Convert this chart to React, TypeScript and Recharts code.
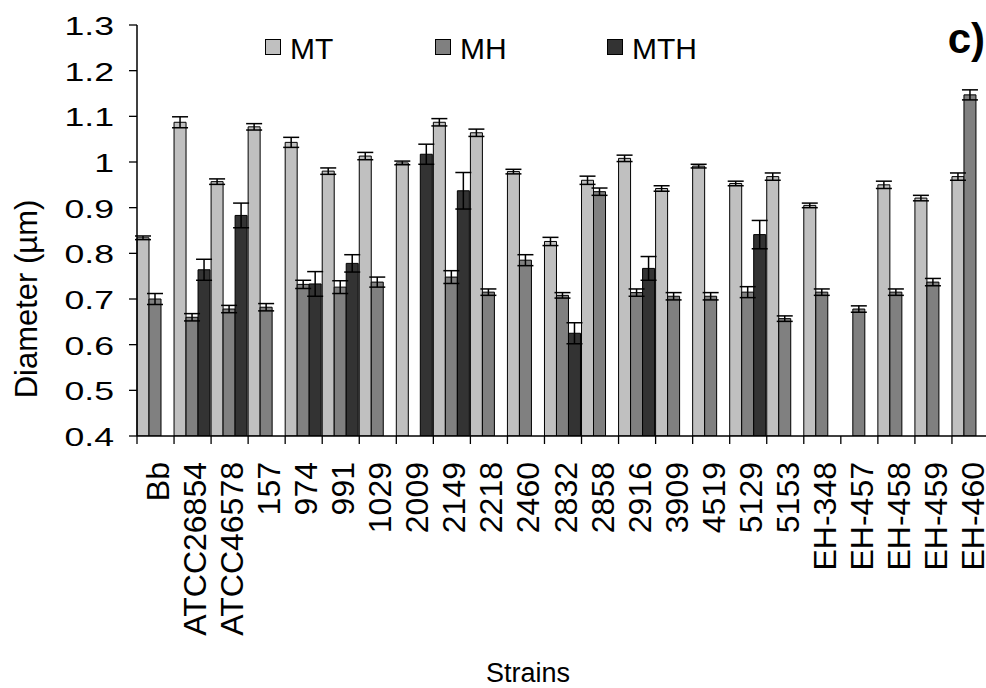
import React from "react";
import { BarChart, Bar, XAxis, YAxis, ErrorBar } from "recharts";

const FONT = '"Liberation Sans", Arial, Helvetica, sans-serif';

const strains = [
  "Bb", "ATCC26854", "ATCC46578", "157", "974", "991", "1029", "2009", "2149", "2218",
  "2460", "2832", "2858", "2916", "3909", "4519", "5129", "5153", "EH-348", "EH-457",
  "EH-458", "EH-459", "EH-460",
];

const mtValues = [
  0.834, 1.087, 0.957, 1.077, 1.043, 0.98, 1.013, 0.998, 1.087, 1.064,
  0.979, 0.826, 0.96, 1.008, 0.942, 0.991, 0.953, 0.968, 0.905, null,
  0.95, 0.921, 0.968,
];
const mtErrors = [
  0.004, 0.012, 0.006, 0.007, 0.011, 0.007, 0.008, 0.004, 0.008, 0.008,
  0.005, 0.009, 0.009, 0.007, 0.006, 0.004, 0.005, 0.008, 0.005, null,
  0.008, 0.006, 0.008,
];

const mhValues = [
  0.7, 0.66, 0.678, 0.682, 0.732, 0.726, 0.737, null, 0.748, 0.715,
  0.785, 0.708, 0.935, 0.714, 0.706, 0.706, 0.715, 0.657, 0.715, 0.678,
  0.715, 0.737, 1.147,
];
const mhErrors = [
  0.012, 0.008, 0.008, 0.008, 0.009, 0.014, 0.011, null, 0.014, 0.007,
  0.012, 0.006, 0.008, 0.008, 0.008, 0.008, 0.012, 0.006, 0.007, 0.007,
  0.007, 0.008, 0.011,
];

const mthValues = [
  null, 0.764, 0.883, null, 0.733, 0.778, null, 1.017, 0.937, null,
  null, 0.625, null, 0.767, null, null, 0.841, null, null, null,
  null, null, null,
];
const mthErrors = [
  null, 0.023, 0.027, null, 0.027, 0.019, null, 0.022, 0.04, null,
  null, 0.023, null, 0.026, null, null, 0.031, null, null, null,
  null, null, null,
];

const yTicks = [0.4, 0.5, 0.6, 0.7, 0.8, 0.9, 1.0, 1.1, 1.2, 1.3];

const seriesNames = ["MT", "MH", "MTH"];
const seriesColors = ["#c0c0c0", "#808080", "#333333"];

const data = strains.map((s, i) => ({
  strain: s,
  MT: mtValues[i],
  MTe: mtErrors[i],
  MH: mhValues[i],
  MHe: mhErrors[i],
  MTH: mthValues[i],
  MTHe: mthErrors[i],
}));

// layout
const CHART_W = 995;
const CHART_H = 688;
const Y_AXIS_W = 137;
const MARGIN = { top: 25, right: 6, bottom: 52, left: 0 };
const X_AXIS_H = 200;
const X_TICK_MARGIN = 26;
const PLOT_W = CHART_W - MARGIN.left - Y_AXIS_W - MARGIN.right;
const HALF_BAND = PLOT_W / strains.length / 2;

const fmt = (v: number) => String(Number(v.toFixed(1)));

function YTick(props: any) {
  const { x, y, payload } = props;
  return (
    <text
      transform={`translate(${x},${y}) scale(1.37,1)`}
      x={0}
      y={0}
      dy={10}
      textAnchor="end"
      fontSize={26}
      fontFamily={FONT}
      fill="#000"
    >
      {fmt(payload.value)}
    </text>
  );
}

function XTick(props: any) {
  const { x, y, payload } = props;
  const axisY = y - X_TICK_MARGIN;
  return (
    <g>
      <line
        x1={x - HALF_BAND}
        x2={x - HALF_BAND}
        y1={axisY}
        y2={axisY + 8}
        stroke="#000"
        strokeWidth={1.3}
      />
      <g transform={`translate(${x + 13.5},${y}) rotate(-90)`}>
        <text x={0} y={0} textAnchor="end" fontSize={32} fontFamily={FONT} fill="#000">
          {payload.value}
        </text>
      </g>
    </g>
  );
}

const legendX = [265.5, 435.5, 607.5];

export default function App() {
  return (
    <div
      style={{
        position: "absolute",
        left: 0,
        top: 0,
        width: 986,
        height: 688,
        overflow: "hidden",
        background: "#fff",
      }}
    >
      <BarChart
        width={CHART_W}
        height={CHART_H}
        data={data}
        margin={MARGIN}
        barCategoryGap={0}
        barGap={0}
      >
        <XAxis
          dataKey="strain"
          interval={0}
          height={X_AXIS_H}
          tickSize={0}
          tickMargin={X_TICK_MARGIN}
          tickLine={false}
          axisLine={{ stroke: "#000", strokeWidth: 1.5 }}
          tick={<XTick />}
        />
        <YAxis
          type="number"
          domain={[0.4, 1.3]}
          ticks={yTicks}
          interval={0}
          allowDataOverflow
          width={Y_AXIS_W}
          tickSize={8}
          tickMargin={15}
          axisLine={{ stroke: "#000", strokeWidth: 1.5 }}
          tickLine={{ stroke: "#000", strokeWidth: 1.3 }}
          tick={<YTick />}
        />
        {seriesNames.map((name, k) => (
          <Bar
            key={name}
            dataKey={name}
            fill={seriesColors[k]}
            stroke="#000"
            strokeWidth={1}
            isAnimationActive={false}
          >
            <ErrorBar
              dataKey={name + "e"}
              width={8}
              stroke="#000"
              strokeWidth={1.5}
              direction="y"
            />
          </Bar>
        ))}
      </BarChart>
      <svg
        width={986}
        height={688}
        style={{ position: "absolute", left: 0, top: 0, pointerEvents: "none" }}
      >
        {seriesNames.map((name, k) => (
          <g key={name}>
            <rect
              x={legendX[k]}
              y={39.5}
              width={15}
              height={15}
              fill={seriesColors[k]}
              stroke="#000"
              strokeWidth={1}
            />
            <text x={legendX[k] + 24.5} y={58.5} fontSize={30} fontFamily={FONT} fill="#000">
              {name}
            </text>
          </g>
        ))}
        <text x={985} y={53} textAnchor="end" fontSize={42} fontWeight="bold" fontFamily={FONT} fill="#000">
          c)
        </text>
        <text
          transform="translate(37,299) rotate(-90)"
          textAnchor="middle"
          fontSize={31}
          fontFamily={FONT}
          fill="#000"
        >
          Diameter (µm)
        </text>
        <text x={528} y={682} textAnchor="middle" fontSize={27} fontFamily={FONT} fill="#000">
          Strains
        </text>
      </svg>
    </div>
  );
}
